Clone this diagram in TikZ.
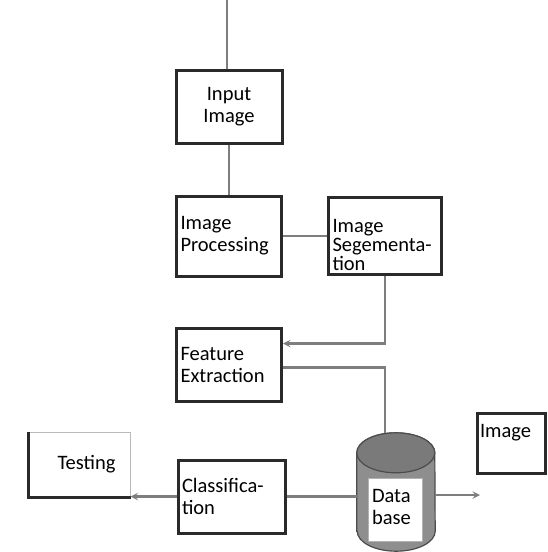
\documentclass[tikz,border=0pt]{standalone}
\usepackage{fontspec}
\setmainfont{Carlito}
\usetikzlibrary{arrows,positioning}
\definecolor{edgegray}{HTML}{2A2A2A}
\definecolor{linegray}{HTML}{7E7E7E}
\definecolor{dbgray}{HTML}{8E8E8E}
\definecolor{dbtop}{HTML}{7A7A7A}

\begin{document}
\begin{tikzpicture}[x=1pt,y=-1pt,>=stealth,
    every node/.style={font=\fontsize{20.5}{22}\selectfont},
    block/.style={rectangle,draw=edgegray,line width=3pt,inner xsep=4pt,inner ysep=0pt,align=left},
    flow/.style={draw=linegray,line width=2.2pt}]

  \useasboundingbox (0,0) rectangle (547,552);

  \node[block, minimum width=106pt, minimum height=73pt, text width=98pt, align=center]
                          (input) at (229,106.5) {Input\\Image};
  \node[block, minimum width=105pt, minimum height=80pt, text width=97pt]
                          (proc) [below=50pt of input] {Image\\Processing};
  \node[block, minimum width=113pt, text width=105pt, text height=35pt, text depth=42pt,
        font=\fontsize{20.5}{19}\selectfont]
                          (seg) [right=44pt of proc] {Image\\Segementa-\\tion};
  \node[block, minimum width=105pt, minimum height=73pt, text width=97pt]
                          (feat) [below=49pt of proc] {Feature\\Extraction};
  \node[block, minimum width=107pt, minimum height=73pt, text width=99pt]
                          (class) at (231.5,496.5) {Classifica-\\tion};
  \node[rectangle, draw=gray!55, line width=1pt, minimum width=101pt, minimum height=65pt]
                          (test) at (79.5,464.5) {\hspace*{14pt}Testing};
  \draw[edgegray, line width=3pt] (test.north west) -- (test.south west) -- (test.south east);

  % data base
  \node[minimum width=78pt, minimum height=118pt, inner sep=0pt] (db) at (396,492) {};
  \path[fill=dbgray, draw=gray!60!black, line width=1.2pt]
        ([yshift=20pt]db.south west) -- ([yshift=-20pt]db.north west)
        arc[start angle=180, end angle=0, x radius=39pt, y radius=20pt]
        -- ([yshift=20pt]db.south east)
        arc[start angle=0, end angle=-180, x radius=39pt, y radius=20pt] -- cycle;
  \path[fill=dbtop, draw=gray!60!black, line width=1.2pt]
        ([yshift=-20pt]db.north west)
        arc[start angle=180, end angle=-180, x radius=39pt, y radius=20pt];
  \node[rectangle, draw=gray!60, line width=1pt, fill=white, minimum width=54pt,
        text width=46pt, inner xsep=4pt, inner ysep=0pt, text height=24pt, text depth=39pt, align=left]
                          (dbtxt) at (395,509.5) {Data\\base};

  \node[block, minimum width=68pt, text width=62pt, inner xsep=3pt, text height=24pt, text depth=36pt]
                          (img) at (511,443) {Image};

  \coordinate (src) at (227,0);
  \coordinate (out) at (480,495);

  \draw[flow] (src) -- (src |- input.north);
  \draw[flow] (input.south) -- (proc.north);
  \draw[flow] (proc.east) -- (seg.west);
  \draw[flow,->] (seg.south) |- ([yshift=21pt]feat.east);
  \draw[flow] ([yshift=-3pt]feat.east) -| ([xshift=-11pt]db.north);
  \draw[flow] (class.east) -- (class.east -| db.west);
  \draw[flow,->] (class.west) -- (class.west -| test.east);
  \draw[flow,->] (db.east |- out) -- (out);
\end{tikzpicture}
\end{document}
